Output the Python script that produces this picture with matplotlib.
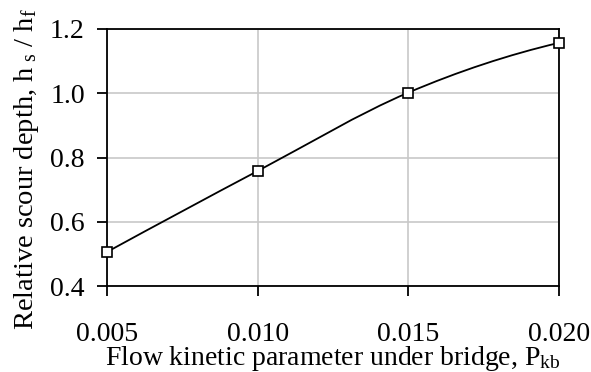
import matplotlib
matplotlib.use('Agg')
import matplotlib.pyplot as plt
from matplotlib.path import Path
from matplotlib.patches import PathPatch
import numpy as np

# Values
flow_param = [0.005, 0.010, 0.015, 0.020]
scour_depth = [0.506, 0.758, 1.002, 1.157]
x_ticks = [0.005, 0.010, 0.015, 0.020]
x_tick_labels = ['0.005', '0.010', '0.015', '0.020']
y_ticks = [0.4, 0.6, 0.8, 1.0, 1.2]
y_tick_labels = ['0.4', '0.6', '0.8', '1.0', '1.2']

plt.rcParams['font.family'] = ['Liberation Serif', 'DejaVu Serif']
plt.rcParams['mathtext.fontset'] = 'custom'
plt.rcParams['mathtext.rm'] = 'Liberation Serif'
plt.rcParams['mathtext.it'] = 'Liberation Serif'


def smooth_path(xs, ys):
    # smoothed line: cubic bezier pieces, Catmull-Rom slopes inside,
    # parabolic slopes at both ends
    xs = np.asarray(xs, float)
    ys = np.asarray(ys, float)
    n = len(xs)
    m = np.zeros(n)
    for i in range(1, n - 1):
        m[i] = (ys[i + 1] - ys[i - 1]) / (xs[i + 1] - xs[i - 1])
    m[0] = 2 * (ys[1] - ys[0]) / (xs[1] - xs[0]) - m[1]
    m[-1] = 2 * (ys[-1] - ys[-2]) / (xs[-1] - xs[-2]) - m[-2]
    verts = [(xs[0], ys[0])]
    codes = [Path.MOVETO]
    for i in range(n - 1):
        h = xs[i + 1] - xs[i]
        c1 = (xs[i] + h / 3, ys[i] + m[i] * h / 3)
        c2 = (xs[i + 1] - h / 3, ys[i + 1] - m[i + 1] * h / 3)
        verts += [c1, c2, (xs[i + 1], ys[i + 1])]
        codes += [Path.CURVE4] * 3
    return Path(verts, codes)


fig, ax = plt.subplots(figsize=(5.91, 3.72), dpi=100)
fig.subplots_adjust(left=107 / 591, right=559 / 591, top=1 - 29 / 372, bottom=1 - 286 / 372)

ax.add_patch(PathPatch(smooth_path(flow_param, scour_depth),
                       facecolor='none', edgecolor='black', linewidth=1.3, zorder=3))
ax.plot(flow_param, scour_depth, linestyle='none', marker='s', markersize=7,
        markerfacecolor='white', markeredgecolor='black', markeredgewidth=1.2,
        zorder=4, clip_on=False)

ax.set_xlim(0.005, 0.020)
ax.set_ylim(0.4, 1.2)
ax.set_xticks(x_ticks)
ax.set_xticklabels(x_tick_labels)
ax.set_yticks(y_ticks)
ax.set_yticklabels(y_tick_labels)

ax.grid(True, color='#c8c8c8', linewidth=1.2)
ax.set_axisbelow(True)
for s in ax.spines.values():
    s.set_linewidth(1.3)
    s.set_color('black')

ax.tick_params(axis='x', direction='out', length=7, width=1.3, pad=19, labelsize=20)
ax.tick_params(axis='y', direction='out', length=7, width=1.3, pad=9, labelsize=20)

ax.set_xlabel(r'Flow kinetic parameter under bridge, P$_{\mathrm{kb}}$', fontsize=20, labelpad=-2.5)
ax.set_ylabel(r'Relative scour depth, h$_{\mathrm{\ s}}$ / h$_{\mathrm{f}}$', fontsize=20.5)
ax.yaxis.set_label_coords(-0.145, 0.455)

fig.savefig('out.png', dpi=100)
